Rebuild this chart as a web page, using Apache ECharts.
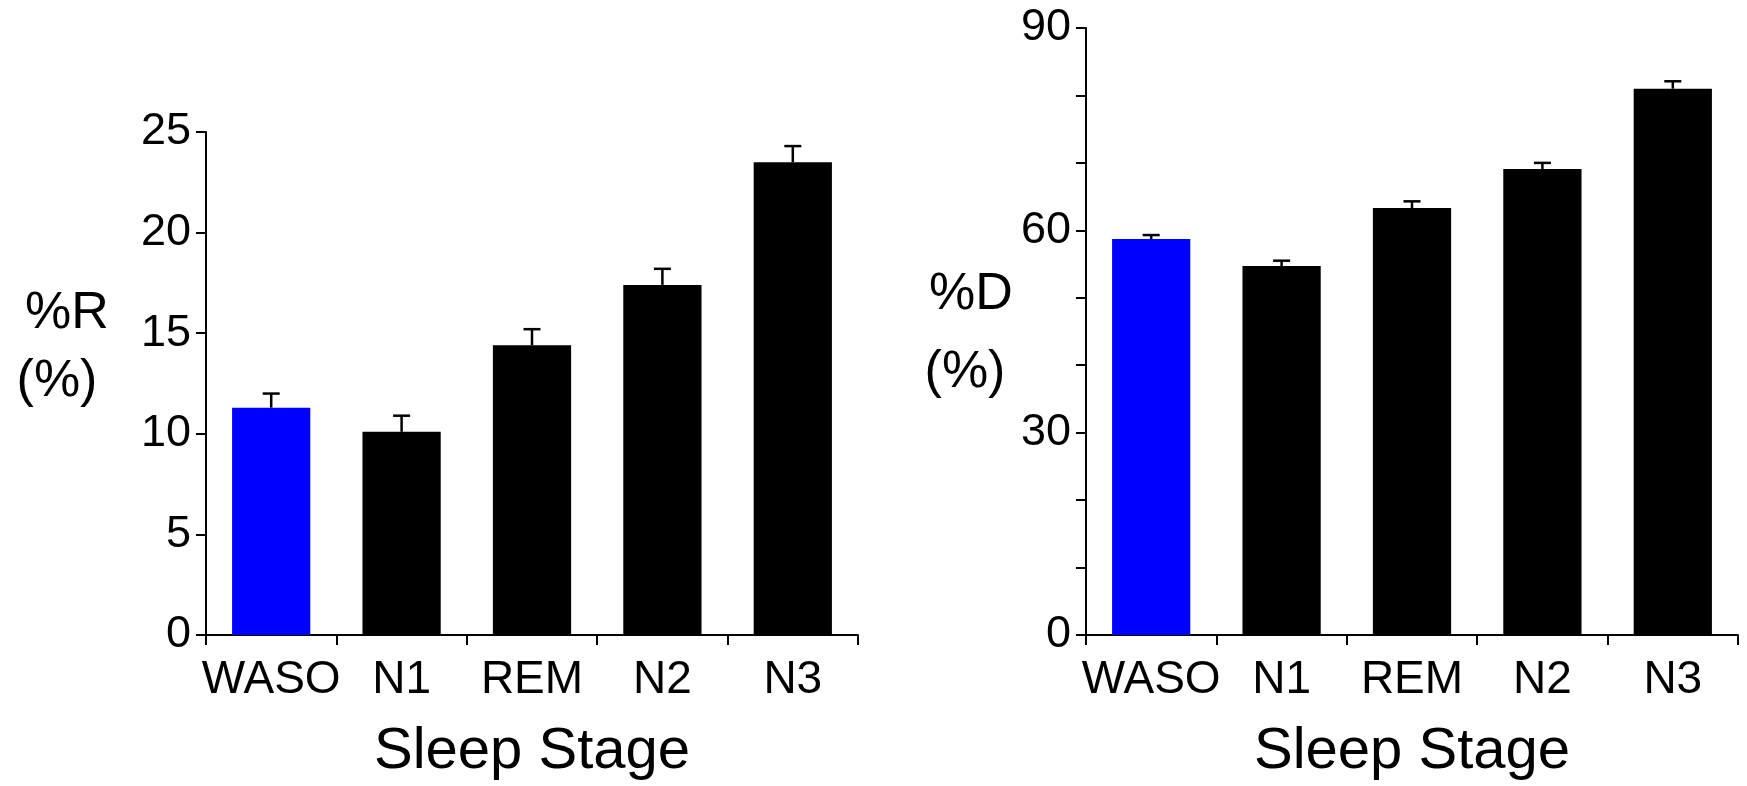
<!DOCTYPE html>
<html>
<head>
<meta charset="utf-8">
<script src="https://cdn.jsdelivr.net/npm/echarts@6/dist/echarts.min.js"></script>
<style>
html,body{margin:0;padding:0;background:#fff;}
#chart{width:1747px;height:786px;}
</style>
</head>
<body>
<div id="chart"></div>
<script>
const categories = ['WASO', 'N1', 'REM', 'N2', 'N3'];
const rMean = [11.3, 10.1, 14.4, 17.4, 23.5];
const rErr = [0.7, 0.8, 0.8, 0.8, 0.8];
const dMean = [58.7, 54.7, 63.3, 69.1, 81.0];
const dErr = [0.6, 0.8, 1.0, 0.9, 1.1];
const barColors = ['#0000ff', '#000000', '#000000', '#000000', '#000000'];
const rTicks = {min: 0, max: 25, interval: 5};
const dTicks = {min: 0, max: 90, interval: 10, labelEvery: 30};

const FONT = '"Liberation Sans", Arial, sans-serif';

function barData(means) {
  return means.map((v, i) => ({value: v, itemStyle: {color: barColors[i]}}));
}
function errData(means, errs) {
  return means.map((v, i) => [i, v, v + errs[i]]);
}
function errRender(params, api) {
  const lo = api.coord([api.value(0), api.value(1)]);
  const hi = api.coord([api.value(0), api.value(2)]);
  const hw = 8.5;
  const style = {stroke: '#000', lineWidth: 2.5, fill: null};
  return {
    type: 'group',
    children: [
      {type: 'line', shape: {x1: lo[0], y1: lo[1], x2: hi[0], y2: hi[1]}, style: style},
      {type: 'line', shape: {x1: hi[0] - hw, y1: hi[1], x2: hi[0] + hw, y2: hi[1]}, style: style}
    ]
  };
}

const axisLine = {show: true, onZero: false, lineStyle: {color: '#000', width: 2}};
const axisTick = {show: true, length: 10, lineStyle: {color: '#000', width: 2}};

function xAxis(gi) {
  return {
    type: 'category', gridIndex: gi, data: categories,
    axisLine: axisLine,
    axisTick: Object.assign({alignWithLabel: false}, axisTick),
    axisLabel: {fontSize: 46, color: '#000', fontFamily: FONT, margin: 22, interval: 0},
    name: 'Sleep Stage', nameLocation: 'middle', nameGap: 88,
    nameTextStyle: {fontSize: 58, color: '#000', fontFamily: FONT},
    splitLine: {show: false}
  };
}

function yTitle(cx, cy, text) {
  return {type: 'text', x: cx, y: cy,
    style: {text: text, font: '52px ' + FONT, fill: '#000', align: 'center', verticalAlign: 'middle'}};
}

const option = {
  animation: false,
  backgroundColor: '#fff',
  grid: [
    {left: 206, right: 889, top: 132, bottom: 151},
    {left: 1086, right: 9, top: 28, bottom: 151}
  ],
  xAxis: [xAxis(0), xAxis(1)],
  yAxis: [
    {
      type: 'value', gridIndex: 0, min: rTicks.min, max: rTicks.max, interval: rTicks.interval,
      axisLine: axisLine, axisTick: axisTick, splitLine: {show: false},
      axisLabel: {fontSize: 45, color: '#000', fontFamily: FONT, margin: 15}
    },
    {
      type: 'value', gridIndex: 1, min: dTicks.min, max: dTicks.max, interval: dTicks.interval,
      axisLine: axisLine, axisTick: axisTick, splitLine: {show: false},
      axisLabel: {fontSize: 45, color: '#000', fontFamily: FONT, margin: 15,
        formatter: v => (v % dTicks.labelEvery === 0 ? String(v) : '')}
    }
  ],
  graphic: [
    yTitle(67, 314, '%R'),
    yTitle(57, 382, '(%)'),
    yTitle(971, 295, '%D'),
    yTitle(965, 373, '(%)')
  ],
  series: [
    {type: 'bar', xAxisIndex: 0, yAxisIndex: 0, data: barData(rMean), barCategoryGap: '40%', z: 2},
    {type: 'custom', xAxisIndex: 0, yAxisIndex: 0, data: errData(rMean, rErr), renderItem: errRender, z: 3},
    {type: 'bar', xAxisIndex: 1, yAxisIndex: 1, data: barData(dMean), barCategoryGap: '40%', z: 2},
    {type: 'custom', xAxisIndex: 1, yAxisIndex: 1, data: errData(dMean, dErr), renderItem: errRender, z: 3}
  ]
};

const chart = echarts.init(document.getElementById('chart'), null, {renderer: 'canvas'});
chart.setOption(option);
</script>
</body>
</html>
